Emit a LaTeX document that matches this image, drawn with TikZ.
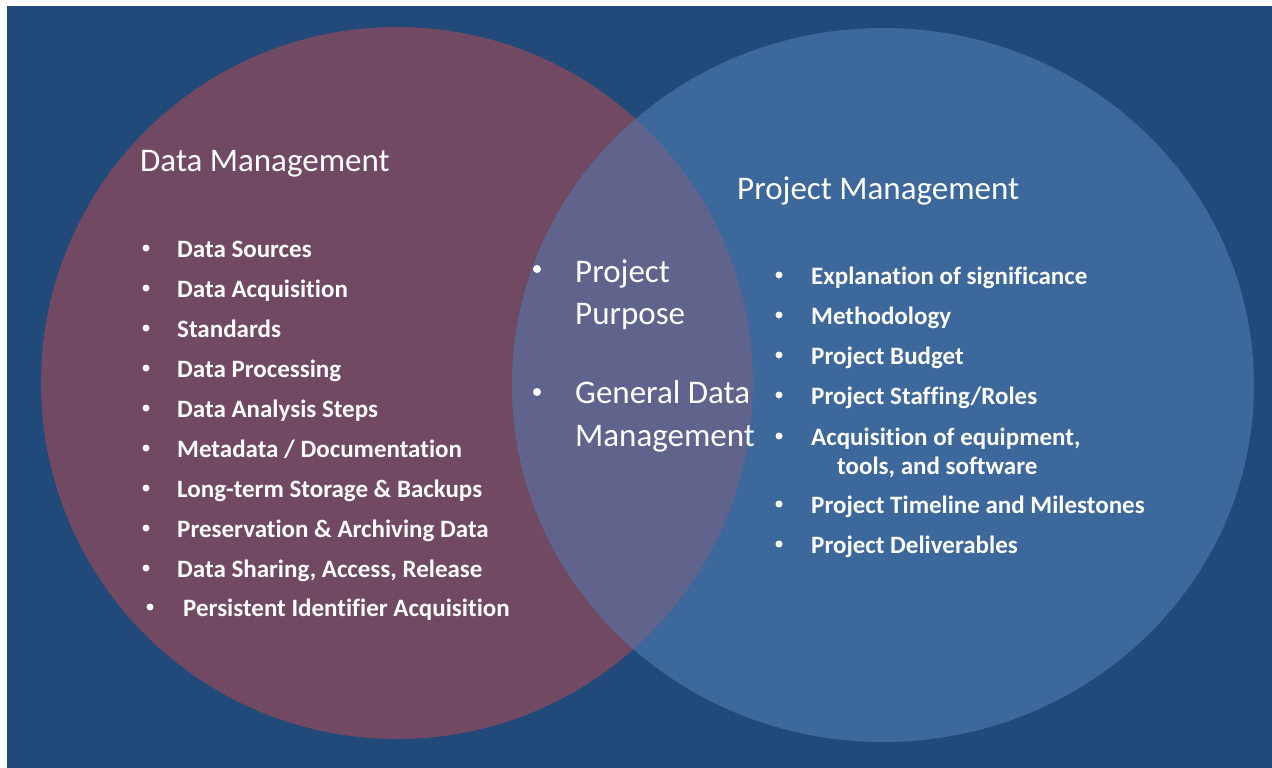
\documentclass[tikz,border=0pt]{standalone}
\usepackage{fontspec}
\setmainfont{Carlito}[Ligatures=NoCommon]
\definecolor{bgblue}{RGB}{33,73,122}
\definecolor{dmred}{RGB}{114,73,99}
\definecolor{pmblue}{RGB}{61,104,156}
\definecolor{mixblue}{RGB}{96,100,141}

\begin{document}
\begin{tikzpicture}[x=1pt, y=-1pt,
    title/.style={anchor=base west, inner sep=0pt, text=white,
        font=\fontsize{33}{40}\selectfont},
    item/.style={anchor=base west, inner sep=0pt, text=white,
        font=\bfseries\fontsize{25}{30}\selectfont},
    dot/.style={circle, fill=white, inner sep=0pt, minimum size=7pt},
    midtext/.style={anchor=base west, inner sep=0pt, text=white,
        font=\fontsize{33}{40}\selectfont},
    middot/.style={dot, minimum size=8pt}]
    \useasboundingbox (0,0) rectangle (1272,768);
    \fill[white] (0,0) rectangle (1272,768);
    \fill[bgblue] (7,6) rectangle (1272,768);
    % the two sets and their overlap
    \fill[dmred] (397,383) circle[radius=356];
    \fill[pmblue] (883,385) ellipse[x radius=371, y radius=357];
    \begin{scope}
        \clip (397,383) circle[radius=356];
        \fill[mixblue] (883,385) ellipse[x radius=371, y radius=357];
    \end{scope}
    % data management
    \node [title] (dmtitle) at (140,171) {Data Management};
    \node [item] (dm1) at (177,257) {Data Sources};
    \node [item] (dm2) at (177,297) {Data Acquisition};
    \node [item] (dm3) at (177,337) {Standards};
    \node [item] (dm4) at (177,377) {Data Processing};
    \node [item] (dm5) at (177,417) {Data Analysis Steps};
    \node [item] (dm6) at (177,457) {Metadata / Documentation};
    \node [item] (dm7) at (177,497) {Long-term Storage \& Backups};
    \node [item] (dm8) at (177,537) {Preservation \& Archiving Data};
    \node [item] (dm9) at (177,577) {Data Sharing, Access, Release};
    \node [item] (dm10) at (183,616) {Persistent Identifier Acquisition};
    \node [dot] (dmdot1) at (146,248) {};
    \node [dot] (dmdot2) at (146,288) {};
    \node [dot] (dmdot3) at (146,328) {};
    \node [dot] (dmdot4) at (146,368) {};
    \node [dot] (dmdot5) at (146,408) {};
    \node [dot] (dmdot6) at (146,448) {};
    \node [dot] (dmdot7) at (146,488) {};
    \node [dot] (dmdot8) at (146,528) {};
    \node [dot] (dmdot9) at (146,568) {};
    \node [dot] (dmdot10) at (150,607) {};
    % shared items
    \node [midtext] (both1) at (575,282) {Project};
    \node [midtext] (both1b) at (575,324) {Purpose};
    \node [midtext] (both2) at (575,403) {General Data};
    \node [midtext] (both2b) at (575,446) {Management};
    \node [middot] (bothdot1) at (537,269) {};
    \node [middot] (bothdot2) at (537,392) {};
    % project management
    \node [title] (pmtitle) at (737,199) {Project Management};
    \node [item] (pm1) at (811,284) {Explanation of significance};
    \node [item] (pm2) at (811,324) {Methodology};
    \node [item] (pm3) at (811,364) {Project Budget};
    \node [item] (pm4) at (811,404) {Project Staffing/Roles};
    \node [item] (pm5) at (811,445) {Acquisition of equipment,};
    \node [item] (pm5b) at (837,474) {tools, and software};
    \node [item] (pm6) at (811,513) {Project Timeline and Milestones};
    \node [item] (pm7) at (811,553) {Project Deliverables};
    \node [dot] (pmdot1) at (779,275) {};
    \node [dot] (pmdot2) at (779,315) {};
    \node [dot] (pmdot3) at (779,355) {};
    \node [dot] (pmdot4) at (779,395) {};
    \node [dot] (pmdot5) at (779,436) {};
    \node [dot] (pmdot6) at (779,504) {};
    \node [dot] (pmdot7) at (779,544) {};
\end{tikzpicture}
\end{document}
